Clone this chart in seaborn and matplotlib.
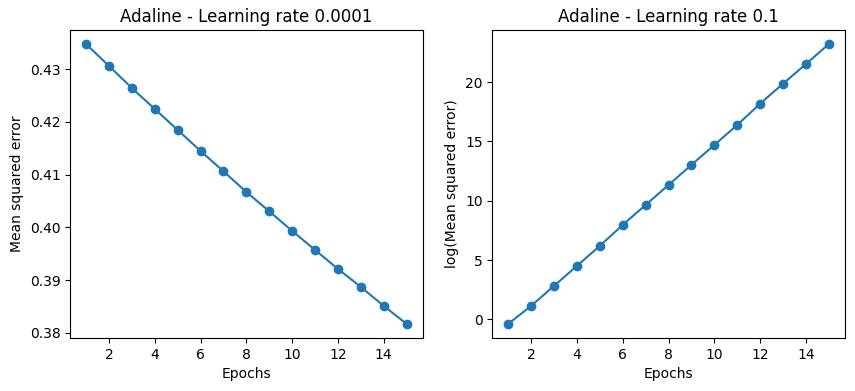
import numpy as np
import pandas as pd
import seaborn as sns
import matplotlib
matplotlib.use("Agg")
import matplotlib.pyplot as plt

# Epochs and cost values
epochs = list(range(1, 16))
mse_lr_small = [0.43473, 0.43057, 0.42640, 0.42242, 0.41845, 0.41447, 0.41062,
                0.40670, 0.40304, 0.39932, 0.39572, 0.39212, 0.38871, 0.38511, 0.38170]
log_mse_lr_big = [-0.37, 1.15, 2.83, 4.52, 6.20, 7.97, 9.65, 11.33,
                  13.02, 14.70, 16.38, 18.18, 19.86, 21.51, 23.20]

df_small = pd.DataFrame({"Epochs": epochs, "mse": mse_lr_small})
df_big = pd.DataFrame({"Epochs": epochs, "logmse": log_mse_lr_big})

fig, ax = plt.subplots(nrows=1, ncols=2, figsize=(8.55, 3.91), dpi=100)
color = "#1f77b4"

sns.lineplot(data=df_small, x="Epochs", y="mse", marker="o", color=color,
             markeredgecolor=color, markeredgewidth=1.0, markersize=6, ax=ax[0])
ax[0].set_xlabel("Epochs")
ax[0].set_ylabel("Mean squared error")
ax[0].set_title("Adaline - Learning rate 0.0001")
ax[0].set_xticks([2, 4, 6, 8, 10, 12, 14])

sns.lineplot(data=df_big, x="Epochs", y="logmse", marker="o", color=color,
             markeredgecolor=color, markeredgewidth=1.0, markersize=6, ax=ax[1])
ax[1].set_xlabel("Epochs")
ax[1].set_ylabel("log(Mean squared error)")
ax[1].set_title("Adaline - Learning rate 0.1")
ax[1].set_xticks([2, 4, 6, 8, 10, 12, 14])

plt.subplots_adjust(left=0.082, right=0.988, bottom=0.136, top=0.923, wspace=0.198)
plt.savefig("out.png", dpi=100)
